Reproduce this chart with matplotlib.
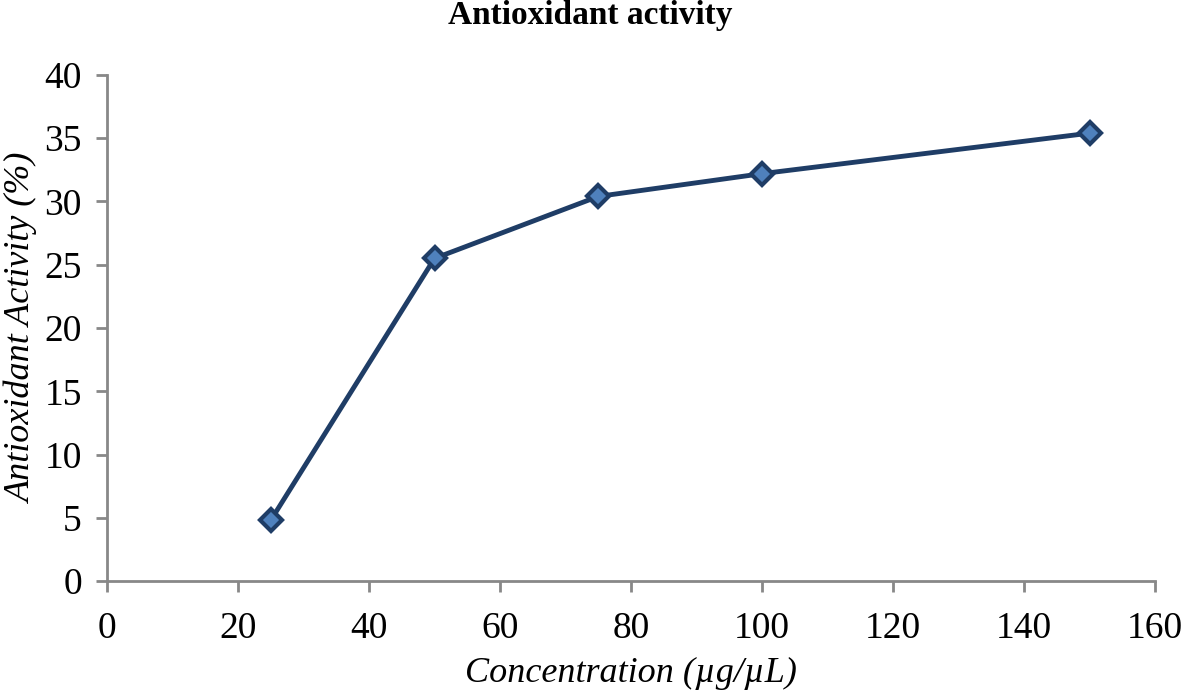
import matplotlib
matplotlib.use("Agg")
import matplotlib.pyplot as plt

conc = [25, 50, 75, 100, 150]
activity = [4.8, 25.5, 30.4, 32.2, 35.4]
xticks = [0, 20, 40, 60, 80, 100, 120, 140, 160]
yticks = [0, 5, 10, 15, 20, 25, 30, 35, 40]

plt.rcParams['font.family'] = ['Liberation Serif', 'DejaVu Serif']
fig = plt.figure(figsize=(11.81, 6.93), dpi=100)
ax = fig.add_axes([0.0906, 0.1616, 0.8874, 0.7302])

ax.plot(conc, activity, color='#1f3d66', lw=3.5, marker='D', ms=11,
        markerfacecolor='#4f81bd', markeredgecolor='#1f3d66', markeredgewidth=3)

ax.set_xlim(0, 160)
ax.set_ylim(0, 40)
ax.set_xticks(xticks)
ax.set_yticks(yticks)
ax.tick_params(axis='both', labelsize=27, color='#888888', width=2, length=8, direction='out')
ax.tick_params(axis='x', pad=14)
ax.tick_params(axis='y', pad=10)
for s in ['top', 'right']:
    ax.spines[s].set_visible(False)
for s in ['left', 'bottom']:
    ax.spines[s].set_color('#888888')
    ax.spines[s].set_linewidth(2)

ax.set_xlabel('Concentration (µg/µL)', fontsize=26, style='italic', labelpad=8)
ax.set_ylabel('Antioxidant Activity (%)', fontsize=26, style='italic', labelpad=4)
fig.suptitle('Antioxidant activity', fontsize=24, fontweight='bold', y=1.0)

fig.savefig('out.png', dpi=100)
